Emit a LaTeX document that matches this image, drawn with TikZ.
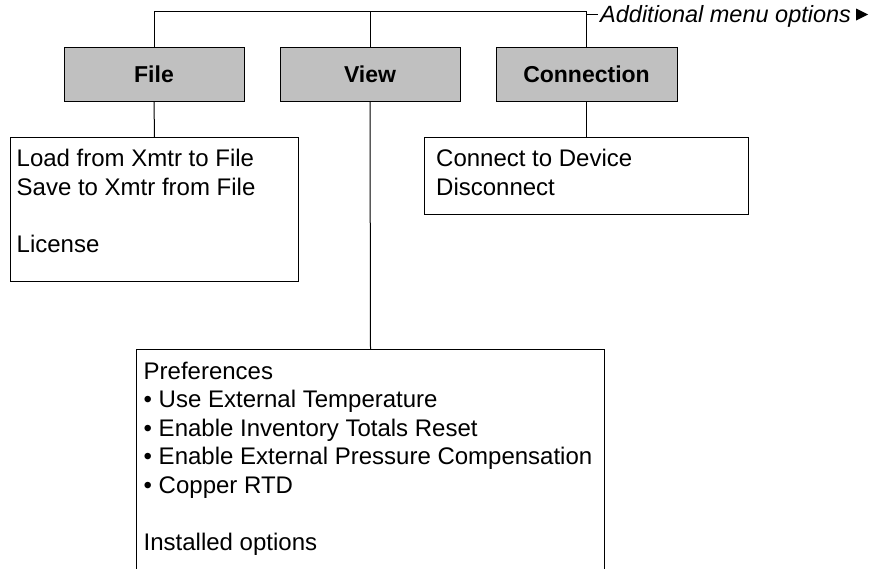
\documentclass[tikz,border=0pt]{standalone}
\usepackage{fontspec}
\setmainfont{Liberation Sans}
\definecolor{menugray}{HTML}{C0C0C0}
\begin{document}
\begin{tikzpicture}[x=1pt,y=-1pt,
  menu/.style={draw=black, line width=1pt, fill=menugray, minimum width=180pt,
    minimum height=54pt, inner sep=0pt, font=\fontsize{23}{27}\selectfont\bfseries},
  sub/.style={draw=black, line width=1pt, fill=white, inner sep=0pt, anchor=north west},
  txt/.style={anchor=base west, inner sep=0pt, font=\fontsize{24}{28.5}\selectfont},
  link/.style={line width=1pt}]
\useasboundingbox (0,0) rectangle (870,568);
\clip (0,0) rectangle (870,568);
\fill[white] (0,0) rectangle (870,568);

% menu headers
\node[menu] (file) at (154,74) {File};
\node[menu] (view) at (370,74) {View};
\node[menu, minimum width=181pt] (conn) at (586.5,74) {Connection};

% sub menus
\node[sub, minimum width=288pt, minimum height=144pt] (filesub) at (10,137) {};
\node[sub, minimum width=324pt, minimum height=77pt] (connsub) at (424,137) {};
\node[sub, minimum width=468pt, minimum height=240pt] (viewsub) at (136,349) {};

% texts
\node[txt] (filetxt) at (16.5,166.7) {\parbox[t]{270pt}{Load from Xmtr to File\\
  Save to Xmtr from File\\[28.5pt]License}};
\node[txt] (conntxt) at (436,166.7) {\parbox[t]{300pt}{Connect to Device\\Disconnect}};
\node[txt] (viewtxt) at (143.5,379) {\parbox[t]{455pt}{Preferences\\
  \textbullet{} Use External Temperature\\
  \textbullet{} Enable Inventory Totals Reset\\
  \textbullet{} Enable External Pressure Compensation\\
  \textbullet{} Copper RTD\\[28.5pt]
  Installed options}};

% additional menu options
\node[anchor=base west, inner sep=0pt, font=\itshape\fontsize{23.5}{27}\selectfont]
  (more) at (600,22) {Additional menu options};
\fill (856,8.5) -- (868,14.5) -- (856,20.5) -- cycle;

% connectors
\coordinate (top) at (0,11);
\coordinate (tick) at (0,14.5);
\draw[link] (file.north) -- (file.north |- top) -- (conn.north |- top) -- (conn.north);
\draw[link] (view.north) -- (view.north |- top);
\draw[link] (conn.north |- tick) -- ([xshift=-2pt]more.west |- tick);
\draw[link] (file.south) -- (filesub.north);
\draw[link] (view.south) -- (viewsub.north);
\draw[link] (conn.south) -- (connsub.north);
\end{tikzpicture}
\end{document}
